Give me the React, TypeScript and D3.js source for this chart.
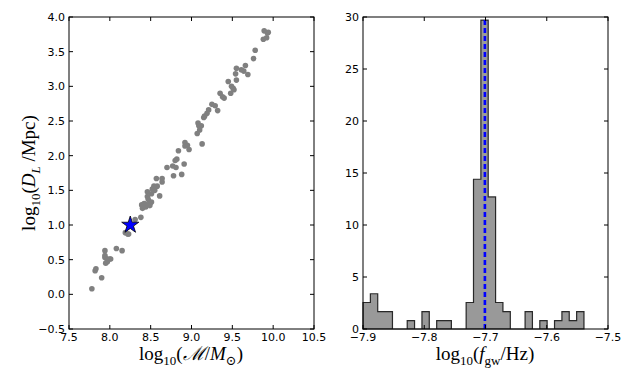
import React from 'react';
import * as d3 from 'd3';

// chirp mass vs luminosity distance samples (log10)
const logMass = [
  9.89, 9.93, 9.94, 9.88, 9.92, 9.78, 9.76, 9.66, 9.69, 9.55, 9.61, 9.64, 9.54, 9.55, 9.45,
  9.49, 9.51, 9.52, 9.48, 9.35, 9.38, 9.40, 9.25, 9.29, 9.32, 9.21, 9.19, 9.16, 9.15, 9.08,
  9.09, 9.12, 9.07, 9.10, 9.13, 8.92, 8.95, 8.97, 8.92, 8.84, 8.82, 8.80, 8.70, 8.77, 8.81,
  8.78, 8.88, 8.91, 8.57, 8.64, 8.64, 8.54, 8.56, 8.58, 8.52, 8.55, 8.46, 8.51, 8.61, 8.46,
  8.47, 8.39, 8.42, 8.44, 8.49, 8.51, 8.40, 8.44, 8.49, 8.38, 8.31, 8.19, 8.22, 8.23, 7.94,
  7.94, 7.94, 7.97, 8.00, 8.01, 7.95, 7.97, 8.08, 8.15, 7.82, 7.83, 7.90, 7.78,
];
const logDist = [
  3.80, 3.77, 3.78, 3.68, 3.70, 3.52, 3.40, 3.30, 3.17, 3.26, 3.24, 3.22, 3.18, 3.09, 3.07,
  3.00, 2.97, 2.95, 2.90, 2.90, 2.85, 2.83, 2.74, 2.72, 2.65, 2.66, 2.61, 2.57, 2.55, 2.47,
  2.43, 2.43, 2.32, 2.37, 2.17, 2.19, 2.15, 2.09, 2.14, 2.07, 1.95, 1.93, 1.83, 1.85, 1.83,
  1.71, 1.73, 1.88, 1.67, 1.67, 1.62, 1.56, 1.55, 1.56, 1.52, 1.50, 1.48, 1.45, 1.42, 1.41,
  1.37, 1.29, 1.31, 1.30, 1.31, 1.33, 1.24, 1.26, 1.28, 1.11, 1.08, 0.89, 0.87, 0.87, 0.63,
  0.56, 0.53, 0.51, 0.51, 0.51, 0.45, 0.47, 0.66, 0.63, 0.34, 0.37, 0.24, 0.08,
];
const trueMass = 8.25;
const trueDist = 1.0;

// GW frequency histogram (normalised), 30 bins
const freqLo = -7.9;
const freqHi = -7.5392;
const freqDensity = [
  2.55, 3.39, 1.68, 1.68, 0, 0, 0.81, 0, 1.68, 0, 0.81, 0.81, 0, 0, 2.55,
  14.4, 29.7, 12.7, 2.55, 1.68, 0, 0, 1.68, 0, 0.81, 0, 0.81, 1.68, 0.81, 1.68,
];
const trueFreq = -7.701;

const massTicks = [7.5, 8.0, 8.5, 9.0, 9.5, 10.0, 10.5];
const distTicks = [-0.5, 0, 0.5, 1.0, 1.5, 2.0, 2.5, 3.0, 3.5, 4.0];
const freqTicks = [-7.9, -7.8, -7.7, -7.6, -7.5];
const densTicks = [0, 5, 10, 15, 20, 25, 30];

const W = 623;
const H = 374;
const tickFont = "'DejaVu Sans', sans-serif";
const mathFont = "'Liberation Serif', 'DejaVu Serif', serif";

function Frame({ x, y, xt, yt, fx, fy }: any) {
  const [x0, x1] = x.range();
  const [y0, y1] = y.range();
  const tl = 4;
  return (
    <g>
      {xt.map((t: number) => (
        <g key={'x' + t}>
          <line x1={x(t)} x2={x(t)} y1={y0} y2={y0 - tl} stroke="#000" />
          <line x1={x(t)} x2={x(t)} y1={y1} y2={y1 + tl} stroke="#000" />
          <text x={x(t)} y={y0 + 4} dy="0.71em" textAnchor="middle" fontSize={11} fontFamily={tickFont}>
            {fx(t)}
          </text>
        </g>
      ))}
      {yt.map((t: number) => (
        <g key={'y' + t}>
          <line x1={x0} x2={x0 + tl} y1={y(t)} y2={y(t)} stroke="#000" />
          <line x1={x1} x2={x1 - tl} y1={y(t)} y2={y(t)} stroke="#000" />
          <text x={x0 - 4} y={y(t)} dy="0.35em" textAnchor="end" fontSize={11} fontFamily={tickFont}>
            {fy(t)}
          </text>
        </g>
      ))}
      <rect x={x0} y={y1} width={x1 - x0} height={y0 - y1} fill="none" stroke="#000" strokeWidth={1} />
    </g>
  );
}

function starPath(cx: number, cy: number, r: number) {
  const pts: [number, number][] = [];
  for (let i = 0; i < 10; i++) {
    const rr = i % 2 === 0 ? r : r * 0.382;
    const a = -Math.PI / 2 + (i * Math.PI) / 5;
    pts.push([cx + rr * Math.cos(a), cy + rr * Math.sin(a)]);
  }
  return d3.line()(pts) + 'Z';
}

export default function App() {
  const fmt1 = d3.format('.1f');
  const fmt0 = d3.format('d');

  const xL = d3.scaleLinear().domain([7.5, 10.5]).range([69, 314]);
  const yL = d3.scaleLinear().domain([-0.5, 4.0]).range([329, 17]);

  const xR = d3.scaleLinear().domain([-7.9, -7.5]).range([363, 608]);
  const yR = d3.scaleLinear().domain([0, 30]).range([329, 17]);

  const binW = (freqHi - freqLo) / freqDensity.length;
  const stepPts: [number, number][] = [[xR(freqLo), yR(0)]];
  freqDensity.forEach((h, i) => {
    stepPts.push([xR(freqLo + i * binW), yR(h)]);
    stepPts.push([xR(freqLo + (i + 1) * binW), yR(h)]);
  });
  stepPts.push([xR(freqHi), yR(0)]);
  const histPath = d3.line()(stepPts) + 'Z';

  const peak = d3.max(freqDensity) as number;

  return (
    <svg width={W} height={H} style={{ position: 'absolute', left: 0, top: 0, background: '#fff' }}>
      {/* left panel */}
      <g>
        {logMass.map((m, i) => (
          <circle key={i} cx={xL(m)} cy={yL(logDist[i])} r={2.8} fill="#808080" />
        ))}
        <path d={starPath(xL(trueMass), yL(trueDist), 9)} fill="#0000ff" stroke="#000" strokeWidth={0.8} />
        <Frame x={xL} y={yL} xt={massTicks} yt={distTicks} fx={fmt1} fy={fmt1} />
        <text x={191} y={360} textAnchor="middle" fontFamily={mathFont} fontSize={19}>
          log<tspan fontSize={13} dy={5}>10</tspan>
          <tspan dy={-5}>(</tspan>
          <tspan fontStyle="italic">ℳ</tspan>/<tspan fontStyle="italic">M</tspan>
          <tspan fontSize={13} dy={5}>⊙</tspan>
          <tspan dy={-5}>)</tspan>
        </text>
        <text transform="translate(35,173) rotate(-90)" textAnchor="middle" fontFamily={mathFont} fontSize={19}>
          log<tspan fontSize={13} dy={5}>10</tspan>
          <tspan dy={-5}>(</tspan>
          <tspan fontStyle="italic">D</tspan>
          <tspan fontSize={13} dy={5} fontStyle="italic">L</tspan>
          <tspan dy={-5}> /Mpc)</tspan>
        </text>
      </g>
      {/* right panel */}
      <g>
        <path d={histPath} fill="#808080" fillOpacity={0.8} stroke="#000" strokeOpacity={0.8} strokeWidth={1.2} />
        <line
          x1={xR(trueFreq)}
          x2={xR(trueFreq)}
          y1={yR(0)}
          y2={yR(peak)}
          stroke="#0000ff"
          strokeWidth={2.6}
          strokeDasharray="5,3"
        />
        <Frame x={xR} y={yR} xt={freqTicks} yt={densTicks} fx={fmt1} fy={fmt0} />
        <text x={485} y={360} textAnchor="middle" fontFamily={mathFont} fontSize={19}>
          log<tspan fontSize={13} dy={5}>10</tspan>
          <tspan dy={-5}>(</tspan>
          <tspan fontStyle="italic">f</tspan>
          <tspan fontSize={13} dy={5}>gw</tspan>
          <tspan dy={-5}>/Hz)</tspan>
        </text>
      </g>
    </svg>
  );
}
